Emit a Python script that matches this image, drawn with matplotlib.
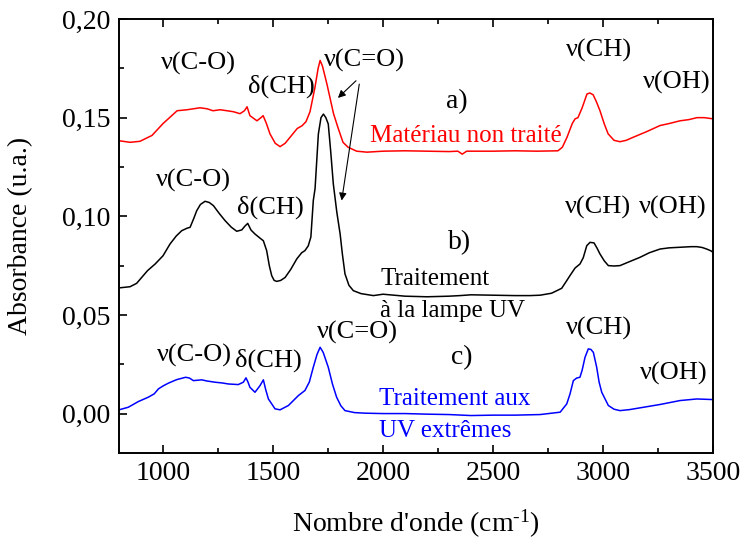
import matplotlib
matplotlib.use("Agg")
import matplotlib.pyplot as plt

plt.rcParams['font.family'] = ['Liberation Serif', 'DejaVu Serif']
plt.rcParams['mathtext.fontset'] = 'custom'
plt.rcParams['mathtext.rm'] = 'Liberation Serif'
plt.rcParams['mathtext.it'] = 'Liberation Serif:italic'

# a) untreated material
wn_a = [800, 850, 895, 950, 1000, 1064, 1109, 1168, 1200, 1227, 1260, 1291, 1320, 1350,
        1370, 1382, 1395, 1427, 1445, 1455, 1470, 1486, 1510, 1532, 1555, 1577, 1610,
        1632, 1650, 1668, 1690, 1705, 1714, 1725, 1745, 1759, 1775, 1795, 1818, 1841,
        1880, 1927, 2000, 2100, 2200, 2300, 2340, 2360, 2380, 2500, 2600, 2700, 2795,
        2815, 2836, 2860, 2873, 2886, 2905, 2927, 2940, 2955, 2970, 2986, 3005, 3023,
        3050, 3077, 3105, 3136, 3200, 3259, 3300, 3350, 3390, 3427, 3460, 3500]
abs_a = [0.1383, 0.1375, 0.1380, 0.1410, 0.1470, 0.1535, 0.1540, 0.1550, 0.1545, 0.1535,
         0.1540, 0.1535, 0.1530, 0.1520, 0.1535, 0.1555, 0.1510, 0.1484, 0.1500, 0.1510,
         0.1470, 0.1418, 0.1370, 0.1353, 0.1370, 0.1400, 0.1445, 0.1459, 0.1480, 0.1530,
         0.1650, 0.1750, 0.1790, 0.1760, 0.1670, 0.1600, 0.1520, 0.1450, 0.1375, 0.1350,
         0.1330, 0.1325, 0.1330, 0.1332, 0.1330, 0.1328, 0.1330, 0.1315, 0.1330, 0.1330,
         0.1332, 0.1330, 0.1332, 0.1350, 0.1400, 0.1470, 0.1494, 0.1500, 0.1550, 0.1620,
         0.1625, 0.1616, 0.1580, 0.1535, 0.1470, 0.1418, 0.1385, 0.1378, 0.1385, 0.1400,
         0.1430, 0.1460, 0.1470, 0.1484, 0.1490, 0.1500, 0.1500, 0.1494]

# b) UV lamp treatment
wn_b = [800, 850, 880, 903, 930, 964, 1000, 1032, 1060, 1085, 1110, 1123, 1140, 1153,
        1170, 1191, 1210, 1229, 1255, 1282, 1310, 1335, 1358, 1372, 1385, 1400, 1418,
        1440, 1456, 1471, 1483, 1494, 1505, 1517, 1535, 1555, 1580, 1608, 1630, 1645,
        1660, 1672, 1683, 1691, 1706, 1718, 1729, 1740, 1751, 1762, 1774, 1790, 1805,
        1815, 1827, 1845, 1865, 1900, 1956, 2000, 2100, 2200, 2300, 2350, 2400, 2500,
        2600, 2668, 2714, 2766, 2790, 2812, 2835, 2850, 2873, 2895, 2910, 2926, 2941,
        2959, 2972, 2986, 3005, 3024, 3050, 3077, 3120, 3168, 3210, 3259, 3300, 3350,
        3400, 3426, 3450, 3471, 3490, 3500]
abs_b = [0.0637, 0.0643, 0.0660, 0.0690, 0.0725, 0.0758, 0.0800, 0.0860, 0.0900, 0.0927,
         0.0940, 0.0944, 0.0990, 0.1028, 0.1060, 0.1076, 0.1070, 0.1054, 0.1015, 0.0978,
         0.0945, 0.0924, 0.0931, 0.0950, 0.0964, 0.0930, 0.0910, 0.0890, 0.0876, 0.0826,
         0.0750, 0.0699, 0.0675, 0.0670, 0.0675, 0.0690, 0.0730, 0.0784, 0.0815, 0.0826,
         0.0850, 0.0895, 0.1080, 0.1140, 0.1417, 0.1500, 0.1518, 0.1500, 0.1468, 0.1330,
         0.1164, 0.1020, 0.0910, 0.0810, 0.0708, 0.0650, 0.0623, 0.0608, 0.0598, 0.0605,
         0.0595, 0.0592, 0.0595, 0.0598, 0.0602, 0.0600, 0.0598, 0.0598, 0.0600, 0.0610,
         0.0623, 0.0635, 0.0674, 0.0700, 0.0738, 0.0758, 0.0790, 0.0851, 0.0868, 0.0865,
         0.0840, 0.0809, 0.0775, 0.0750, 0.0748, 0.0750, 0.0770, 0.0792, 0.0815, 0.0834,
         0.0840, 0.0843, 0.0846, 0.0846, 0.0842, 0.0834, 0.0825, 0.0817]

# c) extreme UV treatment
wn_c = [800, 842, 888, 933, 960, 979, 1000, 1024, 1062, 1103, 1120, 1138, 1176, 1200,
        1236, 1270, 1297, 1342, 1365, 1377, 1386, 1395, 1418, 1441, 1456, 1467, 1479,
        1509, 1532, 1570, 1615, 1645, 1665, 1683, 1700, 1714, 1728, 1751, 1770, 1789,
        1808, 1827, 1870, 1918, 2000, 2100, 2200, 2300, 2400, 2500, 2600, 2714, 2805,
        2835, 2850, 2865, 2880, 2895, 2905, 2918, 2933, 2945, 2956, 2971, 2982, 2994,
        3024, 3050, 3077, 3120, 3168, 3259, 3350, 3426, 3500]
abs_c = [0.0019, 0.0032, 0.0061, 0.0083, 0.0100, 0.0125, 0.0140, 0.0154, 0.0172, 0.0184,
         0.0180, 0.0167, 0.0171, 0.0165, 0.0159, 0.0155, 0.0150, 0.0147, 0.0159, 0.0181,
         0.0160, 0.0133, 0.0108, 0.0142, 0.0171, 0.0120, 0.0074, 0.0024, 0.0019, 0.0041,
         0.0091, 0.0117, 0.0160, 0.0235, 0.0300, 0.0336, 0.0310, 0.0235, 0.0150, 0.0083,
         0.0040, 0.0015, 0.0005, 0.0002, 0.0000, 0.0000, -0.0003, -0.0005, -0.0010, -0.0008,
         -0.0008, -0.0005, 0.0007, 0.0049, 0.0100, 0.0167, 0.0180, 0.0184, 0.0220, 0.0285,
         0.0328, 0.0325, 0.0310, 0.0235, 0.0160, 0.0108, 0.0041, 0.0022, 0.0015, 0.0020,
         0.0029, 0.0046, 0.0066, 0.0074, 0.0071]

x_ticks = [1000, 1500, 2000, 2500, 3000, 3500]
x_tick_labels = ['1000', '1500', '2000', '2500', '3000', '3500']
y_ticks = [0.00, 0.05, 0.10, 0.15, 0.20]
y_tick_labels = ['0,00', '0,05', '0,10', '0,15', '0,20']

fig = plt.figure(figsize=(7.43, 5.43), dpi=100)
ax = fig.add_axes([0.1602, 0.1657, 0.7995, 0.7993])

ax.plot(wn_a, abs_a, color='#ff0000', lw=1.1)
ax.plot(wn_b, abs_b, color='black', lw=1.1)
ax.plot(wn_c, abs_c, color='#0000ff', lw=1.1)

ax.set_xlim(800, 3500)
ax.set_ylim(-0.02, 0.20)
ax.set_xticks(x_ticks)
ax.set_xticklabels(x_tick_labels)
ax.set_xticks([1250, 1750, 2250, 2750, 3250], minor=True)
ax.set_yticks(y_ticks)
ax.set_yticklabels(y_tick_labels)
ax.set_yticks([-0.025 + 0.05 * k for k in range(1, 5)], minor=True)

ax.tick_params(which='both', direction='in', top=True, right=False, labelsize=20, width=1.2)
ax.tick_params(which='major', length=6)
ax.tick_params(which='minor', length=3.5)
ax.tick_params(axis='x', pad=6)
ax.tick_params(axis='y', pad=6)
for sp in ax.spines.values():
    sp.set_linewidth(1.4)

ax.set_xlabel("Nombre d'onde (cm$^{\\text{-1}}$)", fontsize=20)
ax.set_ylabel("Absorbance (u.a.)", fontsize=20)
ax.xaxis.set_label_coords(0.5, -0.125)
ax.yaxis.set_label_coords(-0.145, 0.5)

fs_band = 19
fs_lab = 20
fs_treat = 18

# band assignments, spectrum a)
ax.text(1159, 0.1773, 'ν(C-O)', fontsize=fs_band, ha='center', va='center')
ax.text(1540, 0.1660, 'δ(CH)', fontsize=fs_band, ha='center', va='center')
ax.text(1914, 0.1790, 'ν(C=O)', fontsize=fs_band, ha='center', va='center')
ax.text(2980, 0.1839, 'ν(CH)', fontsize=fs_band, ha='center', va='center')
ax.text(3335, 0.1678, 'ν(OH)', fontsize=fs_band, ha='center', va='center')
ax.text(2335, 0.1582, 'a)', fontsize=fs_lab, ha='center', va='center')
ax.text(1941, 0.1408, 'Matériau non traité', fontsize=fs_treat, color='#ff0000',
        ha='left', va='center')

# arrows pointing the C=O band of a) and b)
arrow = dict(arrowstyle='-|>', color='black', lw=0.8, mutation_scale=11, shrinkA=0, shrinkB=0)
ax.annotate('', xy=(1795, 0.1600), xytext=(1877, 0.1687), arrowprops=arrow)
ax.annotate('', xy=(1812, 0.1080), xytext=(1892, 0.1670), arrowprops=arrow)

# band assignments, spectrum b)
ax.text(1137, 0.1180, 'ν(C-O)', fontsize=fs_band, ha='center', va='center')
ax.text(1486, 0.1045, 'δ(CH)', fontsize=fs_band, ha='center', va='center')
ax.text(2975, 0.1045, 'ν(CH)', fontsize=fs_band, ha='center', va='center')
ax.text(3315, 0.1045, 'ν(OH)', fontsize=fs_band, ha='center', va='center')
ax.text(2350, 0.0866, 'b)', fontsize=fs_lab, ha='center', va='center')
ax.text(1987, 0.0682, 'Traitement', fontsize=fs_treat, ha='left', va='center')
ax.text(1987, 0.0522, 'à la lampe UV', fontsize=fs_treat, ha='left', va='center')

# band assignments, spectrum c)
ax.text(1141, 0.0294, 'ν(C-O)', fontsize=fs_band, ha='center', va='center')
ax.text(1480, 0.0269, 'δ(CH)', fontsize=fs_band, ha='center', va='center')
ax.text(1883, 0.0412, 'ν(C=O)', fontsize=fs_band, ha='center', va='center')
ax.text(2983, 0.0429, 'ν(CH)', fontsize=fs_band, ha='center', va='center')
ax.text(3320, 0.0201, 'ν(OH)', fontsize=fs_band, ha='center', va='center')
ax.text(2359, 0.0285, 'c)', fontsize=fs_lab, ha='center', va='center')
ax.text(1980, 0.0074, 'Traitement aux', fontsize=fs_treat, color='#0000ff',
        ha='left', va='center')
ax.text(1980, -0.0086, 'UV extrêmes', fontsize=fs_treat, color='#0000ff',
        ha='left', va='center')

fig.savefig('out.png', dpi=100)
